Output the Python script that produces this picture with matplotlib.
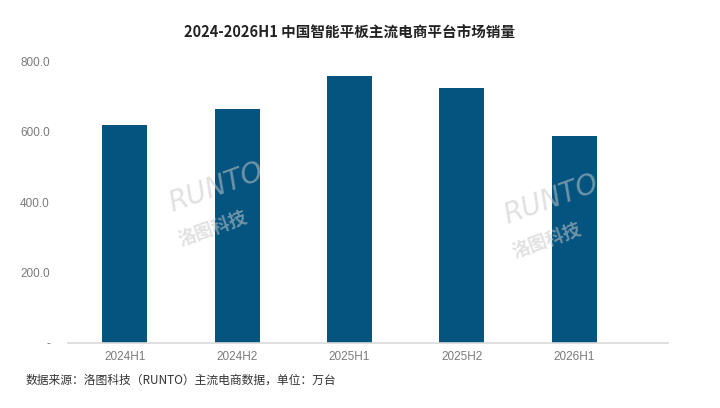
import matplotlib
matplotlib.use('Agg')
import matplotlib.pyplot as plt

periods = ['2024H1', '2024H2', '2025H1', '2025H2', '2026H1']
sales = [621, 664, 760, 725, 589]
y_ticks = [0, 200, 400, 600, 800]
y_tick_labels = ['-', '200.0', '400.0', '600.0', '800.0']
title = '2024-2026H1 中国智能平板主流电商平台市场销量'
source = '数据来源：洛图科技（RUNTO）主流电商数据，单位：万台'

plt.rcParams['font.family'] = ['Noto Sans CJK SC', 'DejaVu Sans']

fig = plt.figure(figsize=(7.2, 4.08), dpi=100)
ax = fig.add_axes([0.0944, 0.160, 0.834, 0.689])

x = list(range(len(periods)))
ax.bar(x, sales, width=0.4, color='#04547f', zorder=2)

ax.set_xlim(-0.505, 4.837)
ax.set_ylim(0, 800)
ax.set_xticks(x)
ax.set_xticklabels(periods, family=['Liberation Sans'], fontsize=8.5, color='#7a7a7a')
ax.set_yticks(y_ticks)
ax.set_yticklabels(y_tick_labels, family=['Liberation Sans'], fontsize=8.5, color='#7a7a7a')
ax.tick_params(axis='both', length=0)
ax.tick_params(axis='y', pad=13)
ax.tick_params(axis='x', pad=6)

for side in ['top', 'right', 'left']:
    ax.spines[side].set_visible(False)
ax.spines['bottom'].set_color('#d9d9d9')
ax.spines['bottom'].set_linewidth(1.2)

fig.text(0.485, 0.919, title, ha='center', va='center', fontsize=10.5,
         fontweight='bold', color='#222222')
fig.text(0.035, 0.068, source, ha='left', va='center', fontsize=8.5, color='#333333')

# faint watermark
for wx, wy in [(0.30, 0.50), (0.765, 0.47)]:
    fig.text(wx, wy + 0.04, 'RUNTO', ha='center', va='center', fontsize=20,
             style='italic', color='#c8c8c8', alpha=0.55, rotation=20,
             family=['DejaVu Sans'])
    fig.text(wx - 0.005, wy - 0.06, '洛图科技', ha='center', va='center', fontsize=13,
             fontweight='bold', color='#c8c8c8', alpha=0.55, rotation=20)

fig.savefig('out.png', dpi=100)
